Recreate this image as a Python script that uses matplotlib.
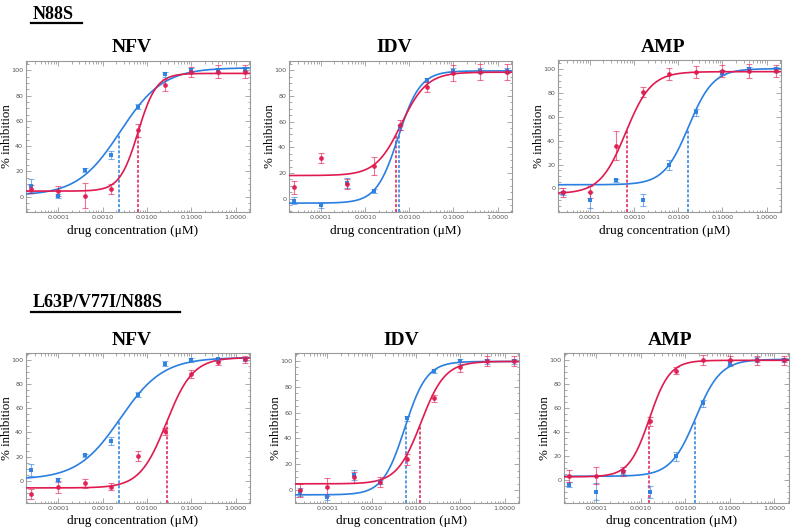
import numpy as np
import matplotlib
matplotlib.use("Agg")
import matplotlib.pyplot as plt
from matplotlib.ticker import FixedLocator, LogLocator, MultipleLocator, NullFormatter, FixedFormatter
from matplotlib.lines import Line2D

# ---------------- data ----------------
conc = [0.0000244, 0.0000977, 0.000391, 0.00156, 0.00625, 0.025, 0.1, 0.4, 1.6]
drugs = ["NFV", "IDV", "AMP"]
mutants = ["N88S", "L63P/V77I/N88S"]
xtick_vals = [0.0001, 0.001, 0.01, 0.1, 1.0]
xtick_labels = ["0.0001", "0.0010", "0.0100", "0.1000", "1.0000"]
ytick_vals = [0, 20, 40, 60, 80, 100]

# wild-type reference (blue)
wt_nfv = [8.9, 0.5, 21.0, 32.9, 71.3, 96.8, 100.0, 100.5, 100.8]
wt_nfv_err = [5, 1.5, 1.5, 3, 2, 2, 1.5, 1.5, 1.5]
wt_idv = [-1.5, -5.2, 12.0, 6.2, 55.5, 92.2, 99.5, 99.5, 99.5]
wt_idv_err = [3, 2, 4, 1.5, 2, 1.5, 2, 2, 2]
wt_amp = [-4.0, -9.8, 6.7, -9.8, 19.5, 63.8, 97.0, 100.2, 100.0]
wt_amp_err = [2, 7, 1.5, 5, 4, 3, 2, 2, 2]

# N88S (red)
n88s_nfv = [6.3, 4.5, 0.8, 6.0, 52.6, 88.4, 98.9, 99.0, 99.0]
n88s_nfv_err = [3, 4, 10, 4, 5, 5, 4, 5, 5]
n88s_idv = [8.8, 31.9, 11.4, 25.7, 57.5, 86.8, 98.0, 98.7, 98.7]
n88s_idv_err = [5, 4, 4, 7, 4, 4, 6, 6, 6]
n88s_amp = [-3.4, -2.8, 35.9, 81.0, 96.0, 97.8, 98.6, 98.3, 98.6]
n88s_amp_err = [4, 5, 12, 4, 5, 5, 5, 6, 5]

# L63P/V77I/N88S (red)
tri_nfv = [-11.3, -5.2, -2.2, -5.0, 20.7, 40.9, 88.4, 98.6, 100.5]
tri_nfv_err = [4, 5, 4, 3, 4, 3, 3, 3, 3]
tri_idv = [0.0, 2.3, 10.0, 6.4, 23.9, 70.9, 95.0, 99.7, 100.0]
tri_idv_err = [5, 7, 4, 4, 4, 3, 4, 4, 4]
tri_amp = [3.1, 3.6, 7.0, 48.7, 91.0, 100.0, 99.7, 99.7, 99.7]
tri_amp_err = [5, 7, 4, 4, 3, 4, 4, 4, 4]

# fitted dose-response parameters: bottom, top, midpoint (uM), hill slope
fit_wt_nfv = [1.0, 102.0, 0.0025, 0.9]
fit_wt_idv = [-3.5, 99.5, 0.0056, 1.75]
fit_wt_amp = [3.0, 100.5, 0.017, 1.55]
fit_n88s_nfv = [4.5, 97.5, 0.0063, 2.1]
fit_n88s_idv = [18.0, 98.5, 0.0066, 1.5]
fit_n88s_amp = [-4.5, 98.0, 0.00064, 1.5]
fit_tri_nfv = [-6.0, 102.0, 0.0275, 1.45]
fit_tri_idv = [5.0, 99.5, 0.013, 1.6]
fit_tri_amp = [2.5, 99.7, 0.00155, 1.9]

wt = {"NFV": (wt_nfv, wt_nfv_err, fit_wt_nfv),
      "IDV": (wt_idv, wt_idv_err, fit_wt_idv),
      "AMP": (wt_amp, wt_amp_err, fit_wt_amp)}
mut = {
    "N88S": {"NFV": (n88s_nfv, n88s_nfv_err, fit_n88s_nfv),
             "IDV": (n88s_idv, n88s_idv_err, fit_n88s_idv),
             "AMP": (n88s_amp, n88s_amp_err, fit_n88s_amp)},
    "L63P/V77I/N88S": {"NFV": (tri_nfv, tri_nfv_err, fit_tri_nfv),
                       "IDV": (tri_idv, tri_idv_err, fit_tri_idv),
                       "AMP": (tri_amp, tri_amp_err, fit_tri_amp)},
}

# ---------------- style / layout ----------------
W, H = 791, 530
BLUE = "#2a7fe0"
RED = "#e01a4f"
FRAME = "#9a9a9a"
XLIM = (1.87e-5, 2.12)

axes_px = {
    ("N88S", "NFV"): (26, 250, 61, 212, (-12.0, 107.3)),
    ("N88S", "IDV"): (289, 512, 61, 212, (-10.4, 107.2)),
    ("N88S", "AMP"): (558, 781, 60, 212, (-19.9, 107.8)),
    ("L63P/V77I/N88S", "NFV"): (26, 250, 353, 503, (-18.5, 105.8)),
    ("L63P/V77I/N88S", "IDV"): (295, 519, 353, 503, (-9.8, 106.0)),
    ("L63P/V77I/N88S", "AMP"): (564, 789, 353, 503, (-19.3, 105.8)),
}
heading_px = {"N88S": (33, 19, 31, 82, 23), "L63P/V77I/N88S": (33, 307, 31, 180, 312)}
title_base = {"N88S": 52, "L63P/V77I/N88S": 345}
xlabel_base = {"N88S": 234, "L63P/V77I/N88S": 524}

fig = plt.figure(figsize=(W / 100, H / 100), dpi=100)
SERIF = ["Liberation Serif", "DejaVu Serif"]


def curve(x, p):
    b, t, m, h = p
    return b + (t - b) / (1.0 + (m / x) ** h)


def x_at_50(p):
    b, t, m, h = p
    return m / (((t - b) / (50.0 - b)) - 1.0) ** (1.0 / h)


for mname in mutants:
    for dname in drugs:
        l, r, t, b, ylim = axes_px[(mname, dname)]
        ax = fig.add_axes([l / W, 1 - b / H, (r - l) / W, (b - t) / H])
        ax.set_xscale("log")
        ax.set_xlim(*XLIM)
        ax.set_ylim(*ylim)
        xs = np.logspace(np.log10(XLIM[0]), np.log10(XLIM[1]), 500)

        series = [(wt[dname], BLUE, "s", 3.0), (mut[mname][dname], RED, "o", 3.4)]
        for (vals, errs, fit), col, mk, ms in series:
            ax.plot(xs, curve(xs, fit), color=col, lw=1.2, zorder=3)
            x50 = x_at_50(fit)
            ax.plot([x50, x50], [ylim[0], 50], color=col, lw=1.1, ls=(0, (2, 1.2)), zorder=2)
        for (vals, errs, fit), col, mk, ms in series:
            ax.errorbar(conc, vals, yerr=errs, fmt="none", ecolor=col, alpha=0.6,
                        elinewidth=0.8, capsize=2.0, capthick=0.8, zorder=4)
            ax.plot(conc, vals, mk, color=col, ms=ms, mew=0, zorder=5, alpha=0.95)

        ax.xaxis.set_major_locator(FixedLocator(xtick_vals))
        ax.xaxis.set_major_formatter(FixedFormatter(xtick_labels))
        ax.xaxis.set_minor_locator(LogLocator(base=10, subs=np.arange(2, 10), numticks=20))
        ax.xaxis.set_minor_formatter(NullFormatter())
        ax.yaxis.set_major_locator(FixedLocator(ytick_vals))
        ax.yaxis.set_minor_locator(MultipleLocator(5))
        ax.tick_params(which="both", direction="in", top=True, right=True,
                       color=FRAME, width=0.6, labelsize=4.6, labelcolor="#555555", pad=2.0)
        ax.tick_params(which="major", length=3.5)
        ax.tick_params(which="minor", length=1.8)
        for s in ax.spines.values():
            s.set_color(FRAME)
            s.set_linewidth(0.8)

        cx = (l + r) / 2
        fig.text((cx - 6) / W, 1 - title_base[mname] / H, dname, ha="center", va="baseline",
                 fontsize=14, fontweight="bold", family=SERIF)
        fig.text((cx - 5) / W, 1 - xlabel_base[mname] / H, "drug concentration (\u03bcM)",
                 ha="center", va="baseline", fontsize=9.5, family=SERIF)
        fig.text((l - 19) / W, 1 - ((t + b) / 2) / H, "% inhibition", rotation=90,
                 ha="center", va="center", fontsize=9.3, family=SERIF)

for mname in mutants:
    x0, yb, ul, ur, uy = heading_px[mname]
    fig.text(x0 / W, 1 - yb / H, mname, ha="left", va="baseline", fontsize=13,
             fontweight="bold", family=SERIF)
    fig.add_artist(Line2D([ul / W, ur / W], [1 - uy / H, 1 - uy / H], color="black", lw=1.6))

fig.savefig("out.png", dpi=100)
